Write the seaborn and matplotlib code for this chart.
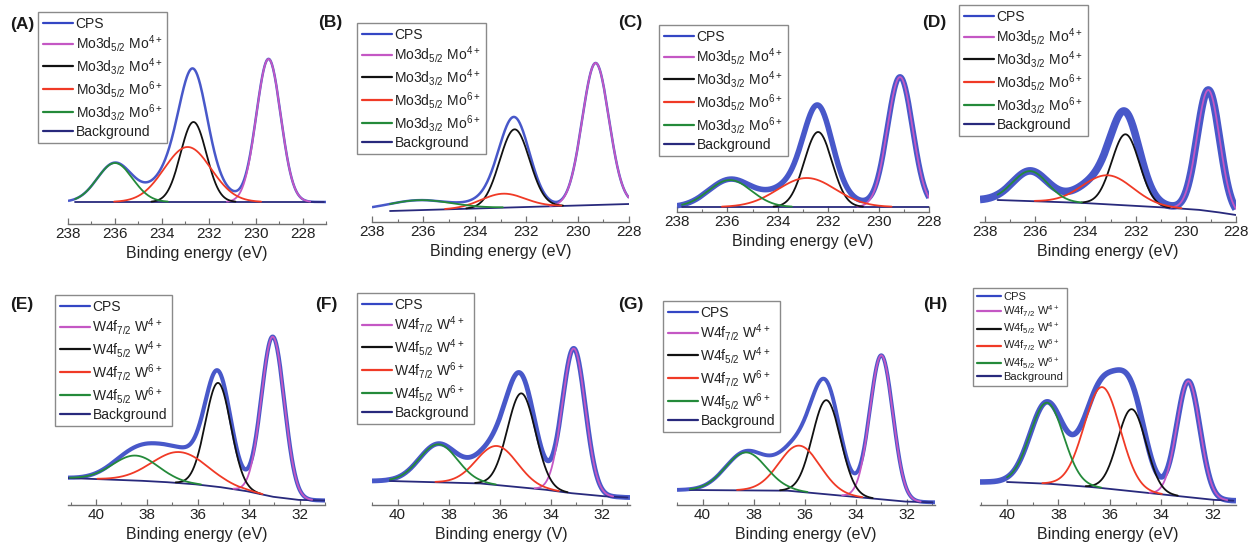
import numpy as np
import matplotlib
matplotlib.use("Agg")
import matplotlib.pyplot as plt
from matplotlib.lines import Line2D
from matplotlib.ticker import MultipleLocator
import seaborn as sns

# ---------------------------------------------------------------------------
# Fitted XPS components (intensity in arbitrary units above the plot floor).
# Component order per panel: [main 4+, partner 4+, main 6+, partner 6+]
# Mo 3d panels (A-D): 3d5/2 Mo4+, 3d3/2 Mo4+, 3d5/2 Mo6+, 3d3/2 Mo6+
# W 4f panels (E-H):  4f7/2 W4+,  4f5/2 W4+,  4f7/2 W6+,  4f5/2 W6+
# ---------------------------------------------------------------------------
a_center = [229.45, 232.65, 232.90, 236.00]
a_height = [143, 80, 55, 39]
a_sigma = [0.52, 0.55, 1.00, 0.75]
a_bg_ev = [237.7, 227.1]
a_bg = [22, 22]

b_center = [229.30, 232.45, 232.90, 236.20]
b_height = [142, 78, 14, 10]
b_sigma = [0.52, 0.58, 0.85, 1.30]
b_bg_ev = [237.3, 228.0]
b_bg = [11, 18]

c_center = [229.15, 232.40, 232.85, 235.90]
c_height = [130, 75, 29, 27]
c_sigma = [0.50, 0.55, 1.15, 0.85]
c_bg_ev = [237.8, 228.0]
c_bg = [5, 5]

d_center = [229.10, 232.40, 233.10, 236.20]
d_height = [121, 71, 29, 30]
d_sigma = [0.45, 0.55, 1.00, 0.70]
d_bg_ev = [237.5, 234.0, 230.5, 229.4, 228.5, 228.0]
d_bg = [22, 19, 14, 12, 9, 7]

e_center = [33.05, 35.20, 36.70, 38.45]
e_height = [160, 104, 31, 25]
e_sigma = [0.45, 0.50, 1.10, 0.90]
e_bg_ev = [41.1, 38.0, 37.0, 36.0, 35.0, 34.0, 33.0, 32.0, 31.0]
e_bg = [27, 24, 22.5, 20.5, 17.5, 13.5, 8, 5, 4.5]

f_center = [33.10, 35.15, 36.10, 38.40]
f_height = [145, 94, 39, 38]
f_sigma = [0.45, 0.55, 0.80, 0.75]
f_bg_ev = [40.3, 36.7, 34.1, 33.1, 31.8, 31.0]
f_bg = [24, 21.5, 15, 11.5, 8.5, 7.5]

g_center = [33.00, 35.15, 36.20, 38.30]
g_height = [144, 94, 46, 38]
g_sigma = [0.45, 0.55, 0.80, 0.80]
g_bg_ev = [40.5, 36.6, 34.1, 32.0, 31.0]
g_bg = [15, 14.3, 8.3, 3.3, 2.7]

h_center = [32.95, 35.15, 36.30, 38.45]
h_height = [116, 82, 101, 81]
h_sigma = [0.45, 0.55, 0.70, 0.65]
h_bg_ev = [40.0, 38.2, 36.6, 34.1, 31.9, 31.2]
h_bg = [23, 21, 17.7, 11, 5, 4.3]

panel_tags = ["(A)", "(B)", "(C)", "(D)", "(E)", "(F)", "(G)", "(H)"]

mo_labels = ["CPS",
             r"Mo3d$_{5/2}$ Mo$^{4+}$", r"Mo3d$_{3/2}$ Mo$^{4+}$",
             r"Mo3d$_{5/2}$ Mo$^{6+}$", r"Mo3d$_{3/2}$ Mo$^{6+}$",
             "Background"]
w_labels = ["CPS",
            r"W4f$_{7/2}$ W$^{4+}$", r"W4f$_{5/2}$ W$^{4+}$",
            r"W4f$_{7/2}$ W$^{6+}$", r"W4f$_{5/2}$ W$^{6+}$",
            "Background"]
x_titles = ["Binding energy (eV)"] * 5 + ["Binding energy (V)"] + ["Binding energy (eV)"] * 2

# ---------------------------------------------------------------------------
# Styling
# ---------------------------------------------------------------------------
sns.set_theme(style="ticks")
plt.rcParams["font.family"] = ["Liberation Sans Narrow", "Liberation Sans", "DejaVu Sans"]
plt.rcParams["mathtext.fontset"] = "custom"
plt.rcParams["mathtext.rm"] = "Liberation Sans Narrow"
plt.rcParams["mathtext.it"] = "Liberation Sans Narrow"
plt.rcParams["mathtext.default"] = "regular"

COL_CPS = "#3446c4"
COL_BG = "#28297c"
COMP_COLORS = ["#c457c4", "#111111", "#f03a26", "#248a3a"]

W, H = 1249, 549
fig = plt.figure(figsize=(W / 100, H / 100), dpi=100)

# (x0, x1, xlim_hi, xlim_lo, axis_y, top_y, tag_xy, legend_xy, legend_fs, cps_lw)
layout = [
    (68, 326, 238.0, 227.0, 224, 0, (22, 25), (38, 12), 10.0, 1.8),
    (372, 629, 238.0, 228.0, 222, 0, (330, 23), (357, 23), 10.0, 1.8),
    (677, 929, 238.0, 228.0, 212, 0, (630, 23), (659, 25), 10.0, 4.0),
    (980, 1236, 238.2, 228.0, 222, 0, (934, 23), (959, 5), 10.0, 5.5),
    (68, 325, 41.1, 31.0, 505, 275, (22, 305), (55, 295), 10.0, 3.0),
    (372, 630, 41.0, 30.9, 505, 275, (326, 305), (357, 293), 10.0, 3.5),
    (677, 935, 41.0, 30.9, 505, 275, (631, 305), (663, 301), 10.0, 2.8),
    (980, 1236, 41.05, 31.1, 505, 275, (935, 305), (973, 288), 8.0, 4.0),
]

fits = [
    (a_center, a_height, a_sigma, a_bg_ev, a_bg),
    (b_center, b_height, b_sigma, b_bg_ev, b_bg),
    (c_center, c_height, c_sigma, c_bg_ev, c_bg),
    (d_center, d_height, d_sigma, d_bg_ev, d_bg),
    (e_center, e_height, e_sigma, e_bg_ev, e_bg),
    (f_center, f_height, f_sigma, f_bg_ev, f_bg),
    (g_center, g_height, g_sigma, g_bg_ev, g_bg),
    (h_center, h_height, h_sigma, h_bg_ev, h_bg),
]


def background(x, bg_ev, bg_val):
    order = np.argsort(bg_ev)
    return np.interp(x, np.asarray(bg_ev)[order], np.asarray(bg_val, float)[order])


def component(x, c, h, s):
    return h * np.exp(-((x - c) ** 2) / (2 * s ** 2))


for i, ((centers, heights, sigmas, bg_ev, bg_val), lay) in enumerate(zip(fits, layout)):
    x0, x1, xhi, xlo, axis_y, top_y, tag_xy, leg_xy, leg_fs, cps_lw = lay
    ax = fig.add_axes([x0 / W, 1 - axis_y / H, (x1 - x0) / W, (axis_y - top_y) / H])
    ax.patch.set_alpha(0)

    # measured envelope over the full window
    xs = np.linspace(xlo, xhi, 900)
    env = background(xs, bg_ev, bg_val)
    for c, h, s in zip(centers, heights, sigmas):
        env = env + component(xs, c, h, s)
    sns.lineplot(x=xs, y=env, ax=ax, color=COL_CPS, lw=cps_lw,
                 sort=False, estimator=None, solid_capstyle="butt", alpha=0.9)

    # fitted region
    fx = np.linspace(min(bg_ev), max(bg_ev), 700)
    fbg = background(fx, bg_ev, bg_val)
    sns.lineplot(x=fx, y=fbg, ax=ax, color=COL_BG, lw=1.3, sort=False, estimator=None)
    for (c, h, s), col in zip(zip(centers, heights, sigmas), COMP_COLORS):
        peak = component(fx, c, h, s)
        yy = np.where(peak > 0.4, fbg + peak, np.nan)
        sns.lineplot(x=fx, y=yy, ax=ax, color=col, lw=1.3, sort=False, estimator=None)

    ax.set_xlim(xhi, xlo)
    ax.set_ylim(0, axis_y - top_y)
    sns.despine(ax=ax, left=True)
    ax.set_yticks([])
    ax.set_ylabel("")
    ax.spines["bottom"].set_color("#707070")
    ax.spines["bottom"].set_linewidth(1.0)
    ax.xaxis.set_major_locator(MultipleLocator(2))
    ax.xaxis.set_minor_locator(MultipleLocator(1))
    ax.tick_params(axis="x", which="major", direction="in", length=4, width=0.9,
                   color="#707070", labelsize=11, pad=2.5, labelcolor="#222222")
    ax.tick_params(axis="x", which="minor", direction="in", length=2.5, width=0.8,
                   color="#707070")
    ax.set_xlabel(x_titles[i], fontsize=11.5, labelpad=3, color="#222222")

    labels = mo_labels if i < 4 else w_labels
    handles = [Line2D([], [], color=COL_CPS, lw=1.6)]
    handles += [Line2D([], [], color=col, lw=1.6) for col in COMP_COLORS]
    handles += [Line2D([], [], color=COL_BG, lw=1.6)]
    leg = ax.legend(handles, labels, loc="upper left",
                    bbox_to_anchor=(leg_xy[0] / W, 1 - leg_xy[1] / H),
                    bbox_transform=fig.transFigure, borderaxespad=0,
                    frameon=True, fancybox=False, framealpha=1,
                    edgecolor="#8a8a8a", fontsize=leg_fs,
                    handlelength=2.2, handletextpad=0.15,
                    labelspacing=0.14, borderpad=0.35)
    leg.get_frame().set_linewidth(1.0)
    for t in leg.get_texts():
        t.set_color("#222222")

    fig.text(tag_xy[0] / W, 1 - tag_xy[1] / H, panel_tags[i], ha="center", va="center",
             fontsize=12.5, fontweight="bold", color="#1a1a1a",
             family=["Liberation Sans", "DejaVu Sans"])

fig.savefig("out.png", dpi=100)
